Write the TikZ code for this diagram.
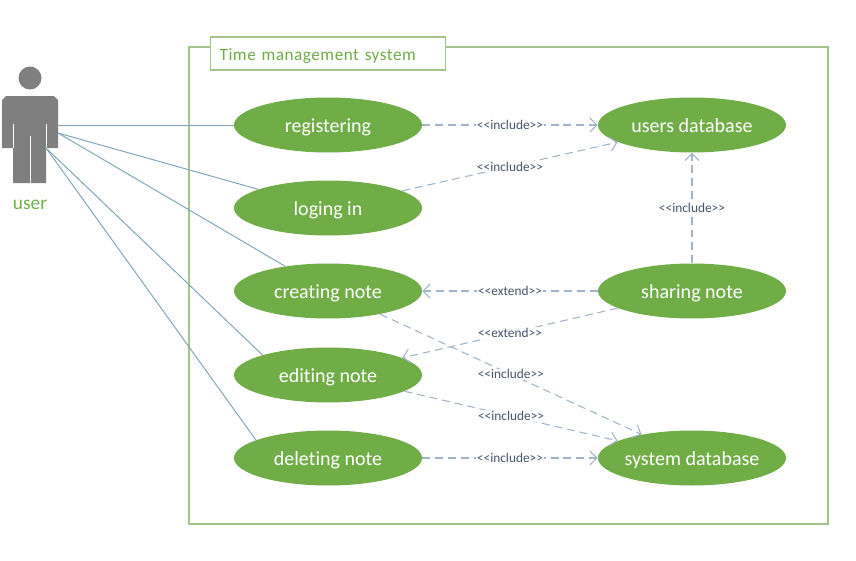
\documentclass[tikz,border=0pt]{standalone}
\usepackage{fontspec}
\setmainfont[Ligatures=NoCommon]{Carlito}
\usetikzlibrary{arrows.meta, shapes.geometric}
\definecolor{usegreen}{HTML}{70AD47}
\definecolor{framegreen}{HTML}{A3C58B}
\definecolor{actorgray}{HTML}{7F7F7F}
\definecolor{assocblue}{HTML}{7FA3B8}
\definecolor{dashblue}{HTML}{9FB4CA}
\definecolor{labelblue}{HTML}{44546A}
\newcommand{\incl}{<{}<include>{}>}
\newcommand{\extd}{<{}<extend>{}>}
\tikzset{
  usecase/.style={ellipse, fill=usegreen, text=white, minimum width=188*0.02cm, minimum height=55*0.02cm, inner sep=-3pt, text height=10.4pt, text depth=2pt, font=\fontsize{11.4}{13}\selectfont},
  assoc/.style={assocblue, line width=0.55pt},
  depend/.style={dashblue, line width=0.6pt, dash pattern=on 4.5pt off 2.8pt, -{Straight Barb[length=4pt,width=8pt]}},
  deplabel/.style={fill=white, text=labelblue, inner sep=0.6pt, font=\fontsize{7.6}{9}\selectfont}
}
\begin{document}
\begin{tikzpicture}[x=0.02cm, y=-0.02cm]
\useasboundingbox (0,0) rectangle (856,561);
% The system frame
\draw[framegreen, line width=0.7pt] (189,47) rectangle (828,524);
\node[draw=framegreen, line width=0.7pt, fill=white, text=usegreen, anchor=west, minimum width=235*0.02cm, minimum height=33*0.02cm, inner sep=0pt, text width=217*0.02cm, text height=9.7pt, text depth=2pt, font=\fontsize{9.8}{11}\selectfont\addfontfeature{LetterSpace=3}] (title) at (210,53.5) {Time management system};
% The actor
\fill[actorgray] (30,78) circle (11.5);
\fill[actorgray] (2,100) -- (6,96) -- (54,96) -- (58,100) -- (58,148) -- (46,148) -- (46,183) -- (13,183) -- (13,148) -- (2,148) -- cycle;
\draw[white, line width=0.5pt] (13,124) -- (13,148) (46,124) -- (46,148) (30,136) -- (30,183);
\node[text=usegreen, font=\fontsize{11}{13}\selectfont] (user) at (30,204.5) {user};
\coordinate (armtop) at (58,125);
\coordinate (armmid) at (58,133);
\coordinate (armlow) at (46,148);
% The use cases
\node[usecase] (registering) at (328,125) {registering};
\node[usecase] (logingin) at (328,208) {loging in};
\node[usecase] (creating) at (328,291) {creating note};
\node[usecase] (editing) at (328,375) {editing note};
\node[usecase] (deleting) at (328,458) {deleting note};
\node[usecase] (usersdb) at (692,125) {users database};
\node[usecase] (sharing) at (692,291) {sharing note};
\node[usecase] (systemdb) at (692,458) {system database};
% The associations
\draw[assoc] (armtop) -- (registering);
\draw[assoc] (armmid) -- (logingin.165);
\draw[assoc] (armmid) -- (creating.150);
\draw[assoc] (armlow) -- (editing.163.5);
\draw[assoc] (armlow) -- (deleting.166.5);
% The dependencies
\draw[depend] (registering) -- node[deplabel] {\incl} (usersdb);
\draw[depend] (logingin.13.5) -- node[deplabel] {\incl} (usersdb.193.5);
\draw[depend] (sharing) -- node[deplabel] {\incl} (usersdb);
\draw[depend] (sharing) -- node[deplabel] {\extd} (creating);
\draw[depend] (sharing.193.5) -- node[deplabel] {\extd} (editing.13.5);
\draw[depend] (creating.-24.7) -- node[deplabel] {\incl} (systemdb.155);
\draw[depend] (editing.-12.8) -- node[deplabel] {\incl} (systemdb.167);
\draw[depend] (deleting) -- node[deplabel] {\incl} (systemdb);
\end{tikzpicture}
\end{document}
